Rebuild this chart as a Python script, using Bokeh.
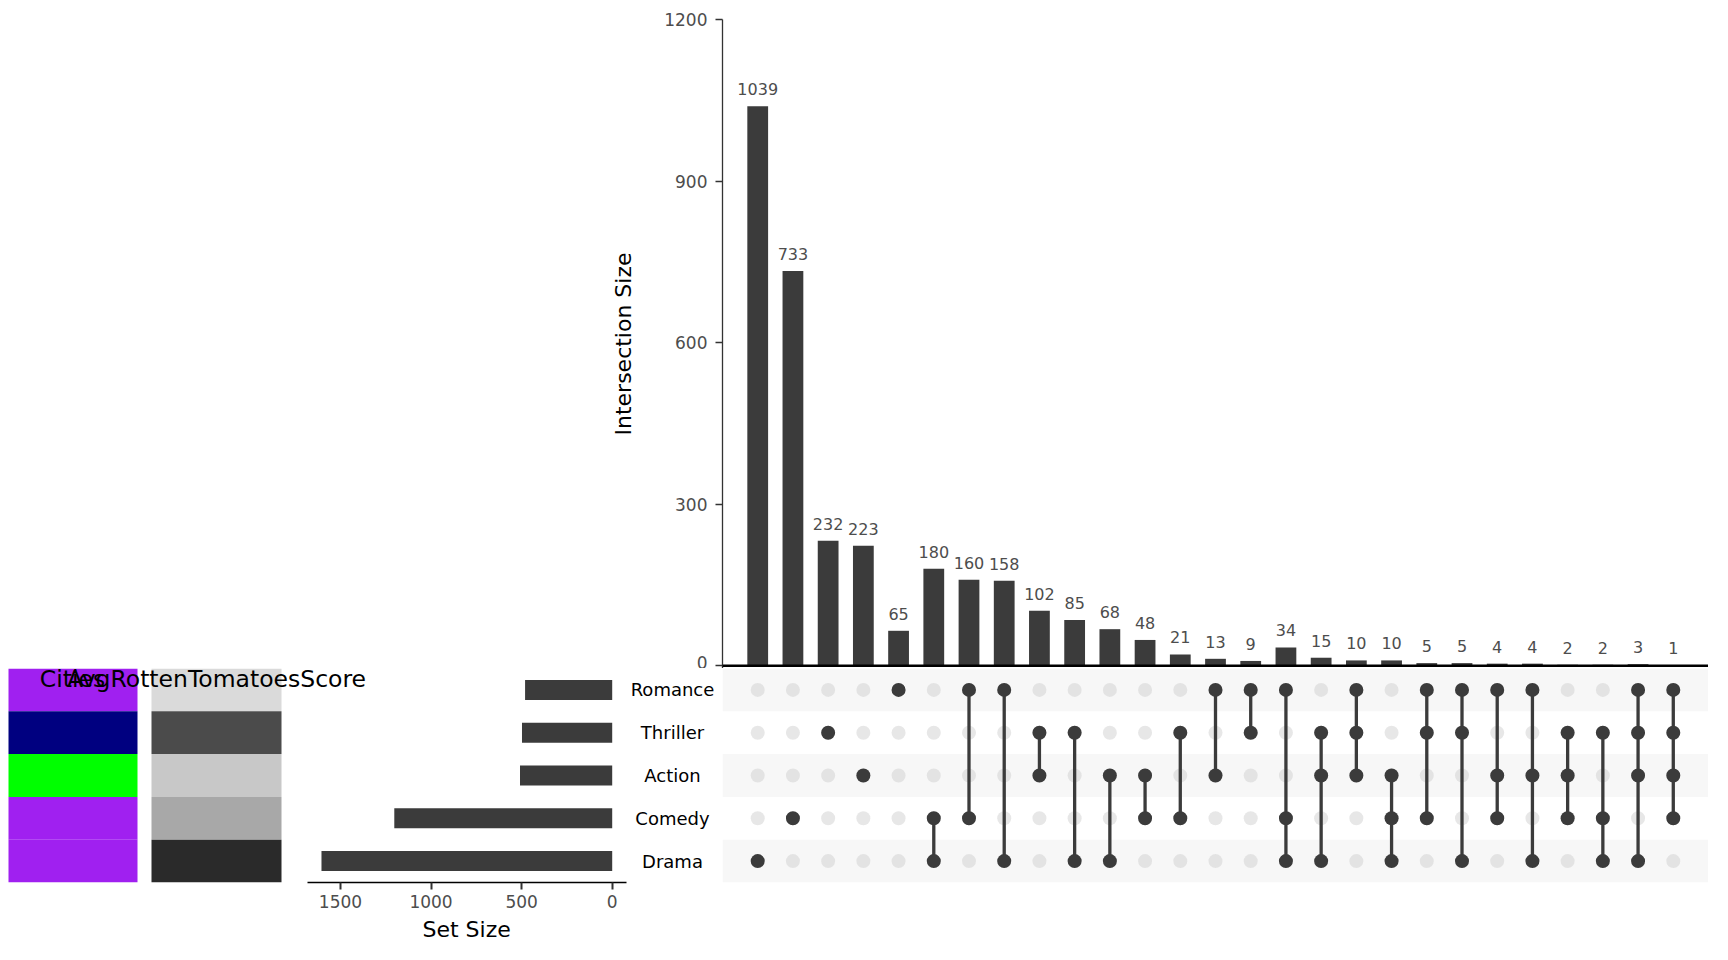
from bokeh.plotting import figure
from bokeh.models import ColumnDataSource, Range1d, FixedTicker, Span, Spacer, Title
from bokeh.layouts import column, row
from bokeh.embed import file_html
from bokeh.resources import INLINE
from bokeh.core.properties import value

# ---------------- data ----------------
sets = ["Romance", "Thriller", "Action", "Comedy", "Drama"]
set_sizes = [481, 498, 509, 1203, 1605]
cities_colors = ["#A020F0", "#000080", "#00FF00", "#A020F0", "#A020F0"]
score_colors = ["#DADADA", "#4B4B4B", "#C8C8C8", "#A8A8A8", "#2A2A2A"]
meta_titles = ["Cities", "AvgRottenTomatoesScore"]

intersections = [
    ["Drama"], ["Comedy"], ["Thriller"], ["Action"], ["Romance"],
    ["Comedy", "Drama"], ["Romance", "Comedy"], ["Romance", "Drama"],
    ["Thriller", "Action"], ["Thriller", "Drama"], ["Action", "Drama"],
    ["Action", "Comedy"], ["Thriller", "Comedy"], ["Romance", "Action"],
    ["Romance", "Thriller"],
    ["Romance", "Comedy", "Drama"], ["Thriller", "Action", "Drama"],
    ["Romance", "Thriller", "Action"], ["Action", "Comedy", "Drama"],
    ["Romance", "Thriller", "Comedy"], ["Romance", "Thriller", "Drama"],
    ["Romance", "Action", "Comedy"], ["Romance", "Action", "Drama"],
    ["Thriller", "Action", "Comedy"], ["Thriller", "Comedy", "Drama"],
    ["Romance", "Thriller", "Action", "Drama"],
    ["Romance", "Thriller", "Action", "Comedy"],
]
intersection_sizes = [1039, 733, 232, 223, 65, 180, 160, 158, 102, 85, 68, 48,
                      21, 13, 9, 34, 15, 10, 10, 5, 5, 4, 4, 2, 2, 3, 1]
y_ticks = [0, 300, 600, 900, 1200]
set_ticks = [0, 500, 1000, 1500]

# ---------------- style ----------------
DARK = "#3B3B3B"
FONT = "DejaVu Sans"
TICK_COL = "#4D4D4D"
ncol = len(intersection_sizes)
nrow = len(sets)
cols = list(range(1, ncol + 1))
rows = list(range(nrow))

# ---------------- intersection bars ----------------
top = figure(width=1140, height=660, x_range=Range1d(0, ncol + 1),
             y_range=Range1d(-5, 1200), x_axis_type=None,
             output_backend="svg", toolbar_location=None,
             min_border_left=154, min_border_right=0, min_border_top=11,
             min_border_bottom=0)
top.outline_line_color = None
top.ygrid.visible = False
bar_src = ColumnDataSource(dict(x=cols, top=intersection_sizes,
                                label=[str(v) for v in intersection_sizes]))
top.vbar(x="x", top="top", bottom=0, width=0.59, source=bar_src,
         fill_color=DARK, line_color=None)
top.text(x="x", y="top", text="label", source=bar_src, text_align="center",
         text_baseline="middle", y_offset=-17, text_font_size="16px",
         text_color=TICK_COL, text_font=value(FONT))
top.add_layout(Span(location=0, dimension="width", line_color="black",
                    line_width=2.5))
ya = top.yaxis[0]
ya.ticker = FixedTicker(ticks=y_ticks)
ya.minor_tick_line_color = None
ya.major_tick_in = 0
ya.major_tick_out = 7
ya.major_tick_line_color = "#333333"
ya.major_tick_line_width = 1.5
ya.axis_line_color = "#333333"
ya.axis_line_width = 1.3
ya.major_label_text_font = FONT
ya.major_label_text_font_size = "17px"
ya.major_label_text_color = TICK_COL
ya.major_label_standoff = 8
ya.axis_label = "Intersection Size"
ya.axis_label_text_font = FONT
ya.axis_label_text_font_size = "22px"
ya.axis_label_text_font_style = "normal"
ya.axis_label_text_color = "black"
ya.axis_label_standoff = 25

# ---------------- set sizes + metadata ----------------
PX = 271.7 / 1500.0          # pixels per set-size unit
ZERO_PX = 603.7              # frame pixel of zero
BOTTOM = 70
left = figure(width=714, height=214 + BOTTOM,
              x_range=Range1d(ZERO_PX / PX, (ZERO_PX - 714) / PX),
              y_range=Range1d(nrow - 0.5, -0.5), y_axis_type=None,
              output_backend="svg", toolbar_location=None,
              min_border_left=0, min_border_right=0, min_border_top=0,
              min_border_bottom=BOTTOM)
left.outline_line_color = None
left.xgrid.visible = False
left.extra_x_ranges = {"meta": Range1d(-64 / 144.0, 650 / 144.0)}

set_src = ColumnDataSource(dict(y=rows, size=set_sizes, name=sets))
left.hbar(y="y", left=0, right="size", height=0.467, source=set_src,
          fill_color=DARK, line_color=None)
left.text(x=(ZERO_PX - 664) / PX, y="y", text="name", source=set_src,
          text_align="center", text_baseline="middle", text_font_size="18px",
          text_color="black", text_font=value(FONT))

meta_src = ColumnDataSource(dict(y=rows, c0=[0] * nrow, c1=[1] * nrow,
                                 cities=cities_colors, score=score_colors))
left.rect(x="c0", y="y", width=130 / 144.0, height=1.0, source=meta_src,
          fill_color="cities", line_color=None, x_range_name="meta")
left.rect(x="c1", y="y", width=130 / 144.0, height=1.0, source=meta_src,
          fill_color="score", line_color=None, x_range_name="meta")
title_src = ColumnDataSource(dict(x=list(range(len(meta_titles))),
                                  y=[-0.266] * len(meta_titles),
                                  t=meta_titles))
left.text(x="x", y="y", text="t", source=title_src, x_range_name="meta",
          text_align="center", text_baseline="middle", text_font_size="23.5px",
          text_color="black", text_font=value(FONT))

xa = left.xaxis[0]
xa.ticker = FixedTicker(ticks=set_ticks)
xa.bounds = (-79, 1682)
xa.minor_tick_line_color = None
xa.major_tick_in = 0
xa.major_tick_out = 7
xa.major_tick_line_color = "#333333"
xa.major_tick_line_width = 2
xa.axis_line_color = "black"
xa.axis_line_width = 1.4
xa.major_label_text_font = FONT
xa.major_label_text_font_size = "17px"
xa.major_label_text_color = TICK_COL
xa.major_label_standoff = 5

set_title = Title(text="Set Size", align="left", offset=414, standoff=10,
                  text_font=FONT, text_font_size="22px",
                  text_font_style="normal", text_color="black",
                  vertical_align="middle")
left.add_layout(set_title, "below")

# ---------------- matrix ----------------
mat = figure(width=986, height=214 + BOTTOM, x_range=Range1d(0, ncol + 1),
             y_range=Range1d(nrow - 0.5, -0.5), x_axis_type=None,
             y_axis_type=None, output_backend="svg", toolbar_location=None,
             min_border_left=0, min_border_right=0, min_border_top=0,
             min_border_bottom=BOTTOM)
mat.outline_line_color = None
stripe_rows = rows[0::2]
mat.hbar(y=stripe_rows, left=0, right=ncol + 1, height=1.0,
         fill_color="#F7F7F7", line_color=None)

all_x, all_y = [], []
on_x, on_y = [], []
seg_x, seg_y0, seg_y1 = [], [], []
for c, members in zip(cols, intersections):
    idx = [sets.index(m) for m in members]
    for r in rows:
        all_x.append(c)
        all_y.append(r)
    for r in idx:
        on_x.append(c)
        on_y.append(r)
    if len(idx) > 1:
        seg_x.append(c)
        seg_y0.append(min(idx))
        seg_y1.append(max(idx))

mat.scatter(x=all_x, y=all_y, size=14, fill_color="#D4D4D4", fill_alpha=0.55,
            line_color=None)
mat.segment(x0=seg_x, y0=seg_y0, x1=seg_x, y1=seg_y1, line_color=DARK,
            line_width=3.3)
mat.scatter(x=on_x, y=on_y, size=14, fill_color=DARK, line_color=None)

body = column(Spacer(width=1700, height=8),
              row(Spacer(width=560, height=660), top),
              row(left, mat))
layout = row(Spacer(width=8, height=952), body)

open("out.html", "w").write(file_html(layout, INLINE))
